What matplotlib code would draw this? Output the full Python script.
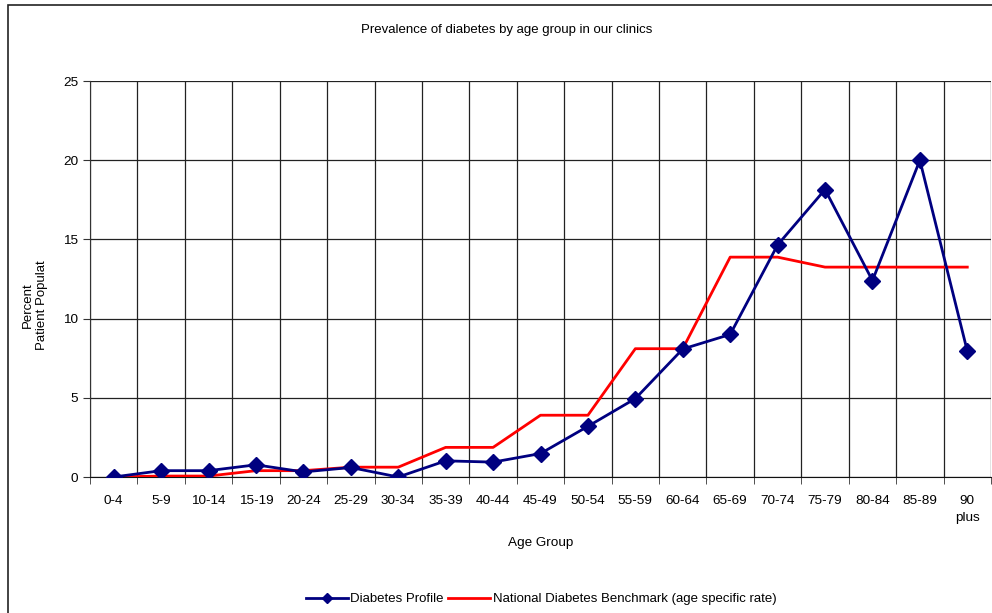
import numpy as np
import matplotlib.pyplot as plt
from matplotlib.patches import Rectangle

plt.rcParams['font.family'] = ['Liberation Sans', 'DejaVu Sans']

# data
age_groups = ["0-4", "5-9", "10-14", "15-19", "20-24", "25-29", "30-34",
              "35-39", "40-44", "45-49", "50-54", "55-59", "60-64", "65-69",
              "70-74", "75-79", "80-84", "85-89", "90\nplus"]
diabetes_profile = [0, 0.4, 0.4, 0.77, 0.32, 0.6, 0, 1.02, 0.94, 1.48,
                    3.2, 4.95, 8.08, 9.0, 14.65, 18.15, 12.4, 20.0, 7.95]
national_benchmark = [0, 0.06, 0.06, 0.4, 0.4, 0.62, 0.62, 1.87, 1.87, 3.9,
                      3.9, 8.1, 8.1, 13.88, 13.88, 13.25, 13.25, 13.25, 13.25]

W, H = 992, 613
fig = plt.figure(figsize=(W / 100, H / 100), dpi=100)
ax = fig.add_axes([90 / W, 1 - 477 / H, (991 - 90) / W, (477 - 81) / H])

x = np.arange(len(age_groups))
ax.plot(x, diabetes_profile, color="#000080", lw=2.0, marker="D", ms=8,
        label="Diabetes Profile", zorder=4)
ax.plot(x, national_benchmark, color="#ff0000", lw=2.0,
        label="National Diabetes Benchmark (age specific rate)", zorder=3)

ax.set_xlim(-0.5, len(age_groups) - 0.5)
ax.set_ylim(0, 25)
ax.set_yticks(range(0, 26, 5))
ax.set_xticks(x)
ax.set_xticklabels(age_groups, fontsize=9.7, linespacing=1.55)
ax.set_xticks(np.arange(-0.5, len(age_groups), 1), minor=True)
ax.tick_params(axis="x", which="major", length=0, pad=13)
ax.tick_params(axis="x", which="minor", length=5, direction="out", color="#333333")
ax.tick_params(axis="y", length=5, direction="out", labelsize=9.7, color="#333333")

ax.grid(True, axis="y", which="major", color="#222222", lw=0.9)
ax.grid(True, axis="x", which="minor", color="#222222", lw=0.9)
ax.set_axisbelow(True)
for s in ["top", "right"]:
    ax.spines[s].set_visible(False)
ax.spines["left"].set_color("#333333")
ax.spines["bottom"].set_color("#111111")

fig.text(507 / W, 1 - 30 / H, "Prevalence of diabetes by age group in our clinics",
         ha="center", va="center", fontsize=9.5)
fig.text(35 / W, 1 - 305 / H, "Percent\nPatient Populat", rotation=90,
         ha="center", va="center", fontsize=9.5, linespacing=1.25)
fig.text(541 / W, 1 - 543 / H, "Age Group", ha="center", va="center", fontsize=9.7)

fig.legend(loc="center", bbox_to_anchor=(541 / W, 1 - 599 / H), ncol=2,
           frameon=False, fontsize=9.5, handlelength=3.2, columnspacing=0.3,
           handletextpad=0.2, markerscale=0.6)

fig.patches.append(Rectangle((8 / W, -0.1), 1.2, 1 - 5 / H + 0.1,
                             transform=fig.transFigure, fill=False,
                             edgecolor="#222222", lw=1.2))

fig.savefig("out.png", dpi=100)
